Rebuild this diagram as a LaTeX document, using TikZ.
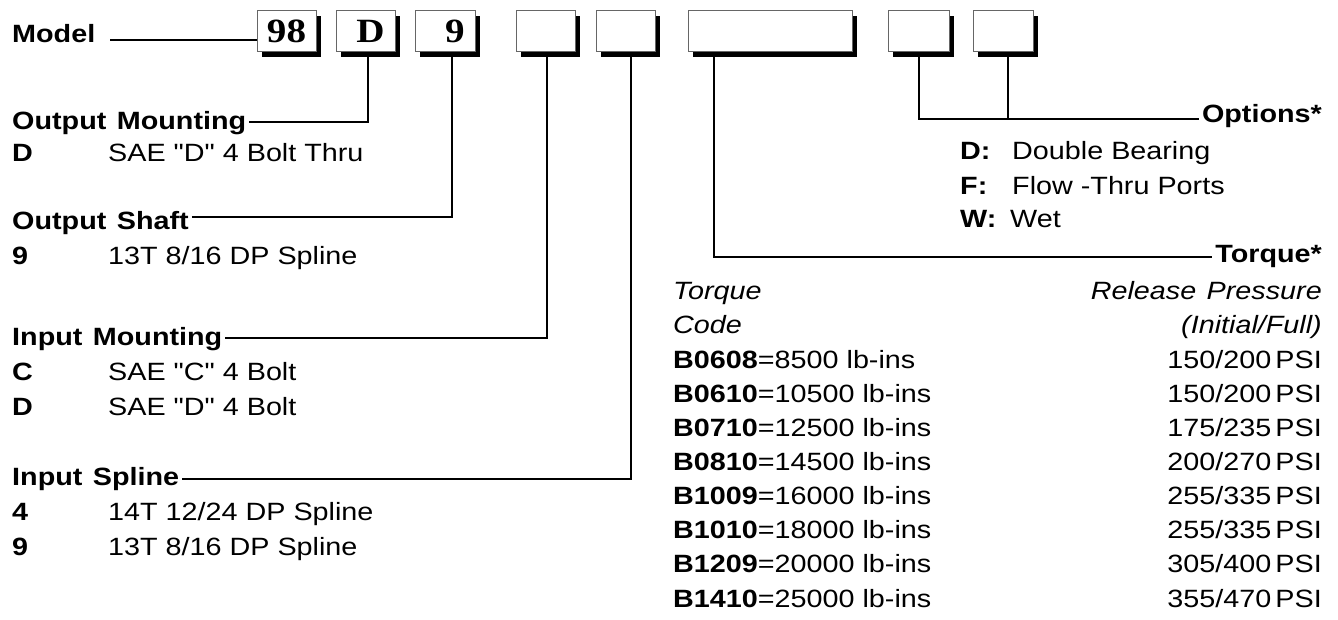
\documentclass[tikz,border=0pt]{standalone}
\usepackage{fontspec}
\setmainfont{Liberation Sans}[FakeStretch=1.15, Ligatures=TeXOff]
\newfontfamily\codefont{Liberation Serif}[FakeStretch=1.15]
\usetikzlibrary{shadows}

\tikzset{
  codebox/.style={draw=black!60, line width=1pt, fill=white, inner sep=0pt,
    minimum height=41pt,
    general shadow={fill=black, shadow xshift=5pt, shadow yshift=-5pt},
    font=\codefont\bfseries\fontsize{34}{40}\selectfont},
  lead/.style={line width=1.8pt},
  head/.style={anchor=base west, inner sep=3pt, font=\bfseries},
  txt/.style={anchor=base west, inner sep=0pt},
  rtxt/.style={anchor=base east, inner sep=0pt}
}

\begin{document}
\fontsize{25}{30}\selectfont
\begin{tikzpicture}[x=1pt,y=-1pt]
    \useasboundingbox (0,0) rectangle (1338,620);

    % Model code boxes
    \node[codebox, minimum width=59pt] (b1) at (286.5,31.5) {98};
    \node[codebox, minimum width=59pt] (b2) at (365.5,31.5) {\phantom{.}D};
    \node[codebox, minimum width=60pt] (b3) at (445,31.5) {\phantom{0}9};
    \node[codebox, minimum width=59pt] (b4) at (545.5,31.5) {};
    \node[codebox, minimum width=59pt] (b5) at (625.5,31.5) {};
    \node[codebox, minimum width=164pt] (b6) at (770,31.5) {};
    \node[codebox, minimum width=61pt] (b7) at (918.5,31.5) {};
    \node[codebox, minimum width=60pt] (b8) at (1003,31.5) {};

    % Model
    \node[txt, font=\bfseries] (model) at (12,43) {Model};
    \coordinate (mline) at (110,40);
    \draw[lead] (mline) -- (b1.west |- mline);

    % Output mounting
    \node[head] (omhead) at (9,130) {Output\hspace{0.1em} Mounting};
    \coordinate (omcorner) at (368,122);
    \draw[lead] (omhead.east |- omcorner) -- (omcorner) -- (omcorner |- b2.south);
    \node[txt, font=\bfseries] (omkey) at (12,162) {D};
    \node[txt] (omval) at (108,162) {SAE "D" 4 Bolt Thru};

    % Output shaft
    \node[head] (oshead) at (9,230) {Output\hspace{0.1em} Shaft};
    \coordinate (oscorner) at (452,217);
    \draw[lead] (oshead.east |- oscorner) -- (oscorner) -- (oscorner |- b3.south);
    \node[txt, font=\bfseries] (oskey) at (12,265) {9};
    \node[txt] (osval) at (108,265) {13T 8/16 DP Spline};

    % Input mounting
    \node[head] (imhead) at (9,345) {Input\hspace{0.1em} Mounting};
    \coordinate (imcorner) at (547,338);
    \draw[lead] (imhead.east |- imcorner) -- (imcorner) -- (imcorner |- b4.south);
    \node[txt, font=\bfseries] (imkeyc) at (12,380) {C};
    \node[txt] (imvalc) at (108,380) {SAE "C" 4 Bolt};
    \node[txt, font=\bfseries] (imkeyd) at (12,415) {D};
    \node[txt] (imvald) at (108,415) {SAE "D" 4 Bolt};

    % Input spline
    \node[head] (ishead) at (9,485) {Input\hspace{0.1em} Spline};
    \coordinate (iscorner) at (631,479);
    \draw[lead] (ishead.east |- iscorner) -- (iscorner) -- (iscorner |- b5.south);
    \node[txt, font=\bfseries] (iskeya) at (12,520) {4};
    \node[txt] (isvala) at (108,520) {14T 12/24 DP Spline};
    \node[txt, font=\bfseries] (iskeyb) at (12,555) {9};
    \node[txt] (isvalb) at (108,555) {13T 8/16 DP Spline};

    % Options
    \node[rtxt, inner sep=3pt, font=\bfseries] (ophead) at (1325,123) {Options*};
    \coordinate (opcorner) at (919,119);
    \coordinate (opjoin) at (1008,119);
    \draw[lead] (opcorner |- b7.south) -- (opcorner) -- (ophead.west |- opcorner);
    \draw[lead] (opjoin |- b8.south) -- (opjoin);
    \node[txt, font=\bfseries] (opkeyd) at (960,160) {D:};
    \node[txt] (opvald) at (1012,160) {Double Bearing};
    \node[txt, font=\bfseries] (opkeyf) at (960,195) {F:};
    \node[txt] (opvalf) at (1012,195) {Flow -Thru Ports};
    \node[txt, font=\bfseries] (opkeyw) at (960,228) {W:};
    \node[txt] (opvalw) at (1010,228) {Wet};

    % Torque
    \node[rtxt, inner sep=3pt, font=\bfseries] (tqhead) at (1325,263) {Torque*};
    \coordinate (tqcorner) at (714,257);
    \draw[lead] (tqcorner |- b6.south) -- (tqcorner) -- (tqhead.west |- tqcorner);
    \node[txt, font=\itshape] (tqcol1) at (673,299) {Torque};
    \node[txt, font=\itshape] (tqcol2) at (673,333.5) {Code};
    \node[rtxt, font=\itshape] (prcol1) at (1322,299) {Release\hspace{0.1em} Pressure};
    \node[rtxt, font=\itshape] (prcol2) at (1322,333.5) {(Initial/Full)};
    \foreach \code/\tq/\pa/\pb [count=\i from 0] in
        {B0608/8500/150/200, B0610/10500/150/200, B0710/12500/175/235,
         B0810/14500/200/270, B1009/16000/255/335, B1010/18000/255/335,
         B1209/20000/305/400, B1410/25000/355/470} {
      \node[txt] (tq\i) at (673,368+34.15*\i) {\textbf{\code}=\tq\ lb-ins};
      \node[rtxt] (pr\i) at (1322,368+34.15*\i) {\pa/\pb\,PSI};
    }
\end{tikzpicture}
\end{document}
